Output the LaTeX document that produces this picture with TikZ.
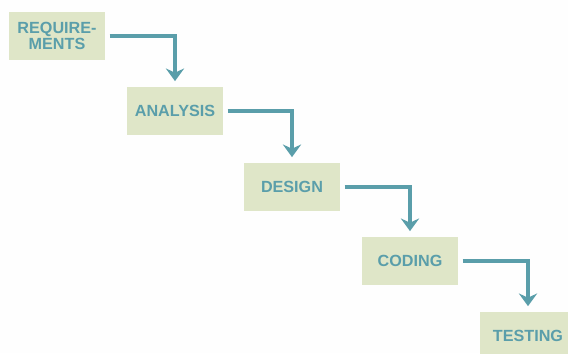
\documentclass[tikz,border=0pt]{standalone}
\usepackage{fontspec}
\setmainfont{Liberation Sans}
\usetikzlibrary{arrows.meta}

\definecolor{boxfill}{HTML}{DFE6C8}
\definecolor{teal}{HTML}{5A9EAA}

\tikzset{
	stage/.style={fill=boxfill, minimum width=2.42cm, minimum height=1.2cm,
		align=center, text=teal, font=\bfseries\fontsize{11.5}{11}\selectfont},
	flow/.style={draw=teal, line width=3.3pt,
		-{Stealth[length=9pt, width=13pt, inset=3pt]}, shorten >=0.14cm, shorten <=0.1cm}
}

\begin{document}
\begin{tikzpicture}
	\fill[white!98!boxfill] (0,0) rectangle (14.2,-8.825);
	\useasboundingbox (0,0) rectangle (14.2,-8.825);

	\begin{scope}
		\clip (0,0) rectangle (14.2,-8.825);
		\node[stage] (req)  at (1.425,-0.9)   {REQUIRE-\\MENTS};
		\node[stage] (ana)  at (4.375,-2.775) {ANALYSIS};
		\node[stage] (des)  at (7.3,-4.675)   {DESIGN};
		\node[stage] (cod)  at (10.25,-6.525) {CODING};
		\node[stage] (test) at (13.2,-8.4)    {TESTING};
	\end{scope}

	\draw[flow] (req.east)  -| (ana.north);
	\draw[flow] (ana.east)  -| (des.north);
	\draw[flow] (des.east)  -| (cod.north);
	\draw[flow] (cod.east)  -| (test.north);
\end{tikzpicture}
\end{document}
